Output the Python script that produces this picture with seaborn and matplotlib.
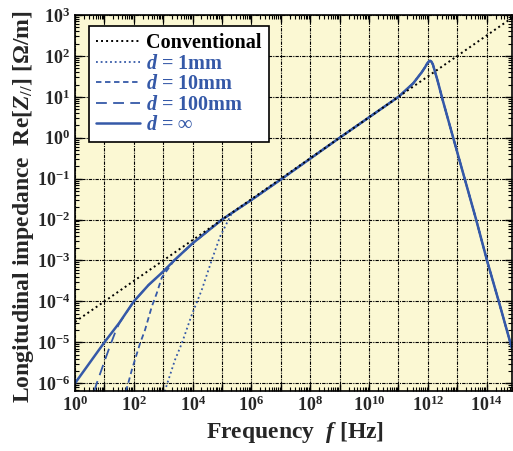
# Longitudinal impedance vs frequency (log-log)

import numpy as np
import seaborn as sns
import matplotlib
matplotlib.use("Agg")
import matplotlib.pyplot as plt
from matplotlib.ticker import LogLocator, FixedLocator, FuncFormatter, NullFormatter

# =============================================================================
# DATA (log10 values)
# =============================================================================

conv_logf = [0, 14.86]
conv_logz = [-4.5, 2.93]

inf_logf = [0, 0.5, 1, 1.5, 2, 2.5, 3, 3.37, 4, 5, 6, 7, 8, 9, 10, 11,
            11.5, 11.79, 11.9, 11.98, 12.04, 12.08, 12.12, 12.17, 12.23,
            12.32, 12.5, 12.86, 13.25, 13.64, 14.01, 14.41, 14.8, 14.86]
inf_logz = [-6, -5.5, -5, -4.53, -4, -3.6, -3.27, -3.0, -2.58, -2.0, -1.52,
            -1.02, -0.51, 0, 0.5, 1.0, 1.33, 1.6, 1.72, 1.82, 1.87, 1.88,
            1.86, 1.79, 1.64, 1.42, 0.93, 0, -1, -2, -3, -4, -5, -5.15]

# low-frequency branches of the finite-thickness curves
d1_logf = [3.05, 3.14, 3.40, 3.63, 3.97, 4.31, 4.65, 4.93, 5.16, 5.33]
d1_logz = [-6.2, -6, -5.43, -5.03, -4.33, -3.72, -2.99, -2.42, -2.09, -1.85]

d10_logf = [1.73, 1.81, 1.93, 2.21, 2.38, 2.61, 2.78, 2.95, 3.17, 3.37]
d10_logz = [-6.2, -6, -5.68, -5.03, -4.7, -4.13, -3.8, -3.42, -3.2, -3.0]

d100_logf = [0.65, 0.74, 1.0, 1.2, 1.36, 1.5]
d100_logz = [-6.2, -6, -5.47, -5.07, -4.77, -4.54]

x_decades = list(range(0, 15))
y_decades = list(range(-6, 4))

labels = ["Conventional", "$d$ = 1mm", "$d$ = 10mm", "$d$ = 100mm", "$d$ = ∞"]

# =============================================================================
# STYLE
# =============================================================================

sns.set_style("ticks")
plt.rcParams["font.family"] = ["Liberation Serif", "DejaVu Serif"]
plt.rcParams["font.weight"] = "bold"
plt.rcParams["mathtext.fontset"] = "custom"
plt.rcParams["mathtext.rm"] = "Liberation Serif:bold"
plt.rcParams["mathtext.bf"] = "Liberation Serif:bold"
plt.rcParams["mathtext.it"] = "Liberation Serif:italic:bold"

blue = "#3559a8"


def with_tail(lf, lz):
    # finite-d curves coincide with the d = inf curve above the merge point
    tail = [(f, z) for f, z in zip(inf_logf, inf_logz) if f > lf[-1]]
    f = list(lf) + [t[0] for t in tail]
    z = list(lz) + [t[1] for t in tail]
    return 10.0 ** np.array(f), 10.0 ** np.array(z)


fig = plt.figure(figsize=(5.13, 4.51), dpi=100)
ax = fig.add_axes([75 / 513, 1 - 391 / 451, 437 / 513, 376 / 451])
ax.set_facecolor("#fbf8d3")

ax.set_xscale("log")
ax.set_yscale("log")

# =============================================================================
# CURVES
# =============================================================================

f1, z1 = with_tail(d1_logf, d1_logz)
f10, z10 = with_tail(d10_logf, d10_logz)
f100, z100 = with_tail(d100_logf, d100_logz)
finf = 10.0 ** np.array(inf_logf)
zinf = 10.0 ** np.array(inf_logz)

sns.lineplot(x=f1, y=z1, ax=ax, color=blue, lw=1.3, sort=False,
             linestyle=(0, (1, 1.6)), label=labels[1])
sns.lineplot(x=f10, y=z10, ax=ax, color=blue, lw=1.3, sort=False,
             linestyle=(0, (3, 2)), label=labels[2])
sns.lineplot(x=f100, y=z100, ax=ax, color=blue, lw=1.3, sort=False,
             linestyle=(0, (6, 3.5)), label=labels[3])
sns.lineplot(x=finf, y=zinf, ax=ax, color=blue, lw=1.8, sort=False,
             label=labels[4])
sns.lineplot(x=10.0 ** np.array(conv_logf), y=10.0 ** np.array(conv_logz),
             ax=ax, color="black", lw=1.4, sort=False,
             linestyle=(0, (1, 1.6)), label=labels[0])

# =============================================================================
# AXES
# =============================================================================

ax.set_xlim(1, 10 ** 14.86)
ax.set_ylim(10 ** -6.19, 1e3)

ax.xaxis.set_major_locator(FixedLocator([10.0 ** e for e in x_decades]))
ax.yaxis.set_major_locator(FixedLocator([10.0 ** e for e in y_decades]))
ax.xaxis.set_minor_locator(LogLocator(base=10, subs=np.arange(2, 10), numticks=200))
ax.yaxis.set_minor_locator(LogLocator(base=10, subs=np.arange(2, 10), numticks=200))


def xfmt(v, pos):
    e = int(round(np.log10(v)))
    return r"$\mathbf{10^{%d}}$" % e if e % 2 == 0 else ""


def yfmt(v, pos):
    e = int(round(np.log10(v)))
    return r"$\mathbf{10^{%d}}$" % e


ax.xaxis.set_major_formatter(FuncFormatter(xfmt))
ax.yaxis.set_major_formatter(FuncFormatter(yfmt))
ax.xaxis.set_minor_formatter(NullFormatter())
ax.yaxis.set_minor_formatter(NullFormatter())

ax.tick_params(which="both", direction="in", top=True, right=True,
               labelsize=13, color="black")
ax.tick_params(which="major", length=5, width=1)
ax.tick_params(which="minor", length=3, width=0.8)

ax.grid(True, which="major", color="black", lw=0.8, linestyle=(0, (3, 1, 1, 1)))

for s in ax.spines.values():
    s.set_linewidth(1.2)
    s.set_color("black")

ax.set_xlabel("Frequency  $f$ [Hz]", fontsize=17, fontweight="bold")
ax.set_ylabel("Longitudinal impedance  Re[$Z_{//}$] [Ω/m]", fontsize=17,
              fontweight="bold")
ax.xaxis.set_label_coords(0.503, -0.078)
ax.yaxis.set_label_coords(-0.09, 0.49)

# =============================================================================
# LEGEND
# =============================================================================

handles, labs = ax.get_legend_handles_labels()
order = [labs.index(l) for l in labels]
leg = ax.legend([handles[i] for i in order], [labs[i] for i in order],
                loc="upper left", bbox_to_anchor=(0.032, 0.971),
                borderaxespad=0, fontsize=14.5, frameon=True, fancybox=False,
                edgecolor="black", framealpha=1, handlelength=2.2,
                handletextpad=0.3, labelspacing=0.03, borderpad=0.35)
leg.get_frame().set_linewidth(1.2)
for i, t in enumerate(leg.get_texts()):
    t.set_color("black" if i == 0 else blue)
    t.set_fontweight("bold")

fig.savefig("out.png", dpi=100)
